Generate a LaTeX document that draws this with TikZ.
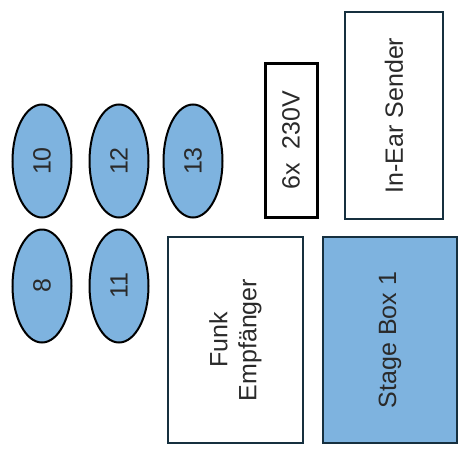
\documentclass[tikz,border=0pt]{standalone}
\usepackage{fontspec}
\setmainfont{Liberation Sans}
\usetikzlibrary{shapes.geometric, positioning}

\definecolor{padblue}{HTML}{7EB3DF}
\definecolor{boxline}{HTML}{16303F}
\definecolor{txtgray}{HTML}{2A2A2A}

\tikzset{
  pad/.style = {ellipse, draw=black, line width=2pt, fill=padblue, rotate=90,
    minimum width=113pt, minimum height=59pt, inner sep=0pt,
    font=\fontsize{25}{29}\selectfont, text=txtgray},
  gear/.style = {rectangle, draw=boxline, line width=2.6pt, rotate=90,
    align=center, font=\fontsize{25}{29}\selectfont, text=txtgray}
}

\begin{document}
\begin{tikzpicture} [x=1pt, y=-1pt, node distance = 77pt and 77pt, on grid]
    \useasboundingbox (0,0) rectangle (462,450);

    \node (p10) [pad] at (42,161) {10};
    \node (p12) [pad, right = of p10] {12};
    \node (p13) [pad, right = 74pt of p12] {13};
    \node (p8)  [pad, below = 125pt of p10] {8};
    \node (p11) [pad, right = of p8] {11};

    \node (power) [gear, draw=black, line width=3pt, minimum width=154pt, minimum height=52pt] at (291,140) {6x\ \ 230V};
    \node (iem) [gear, minimum width=207pt, minimum height=98pt] at (394,115.5) {In-Ear Sender};
    \node (funk) [gear, minimum width=206pt, minimum height=135pt] at (235.5,340) {Funk\\Empf\"anger};
    \node (sbox) [gear, fill=padblue, minimum width=206pt, minimum height=134pt] at (390,340) {Stage Box 1};

\end{tikzpicture}
\end{document}
